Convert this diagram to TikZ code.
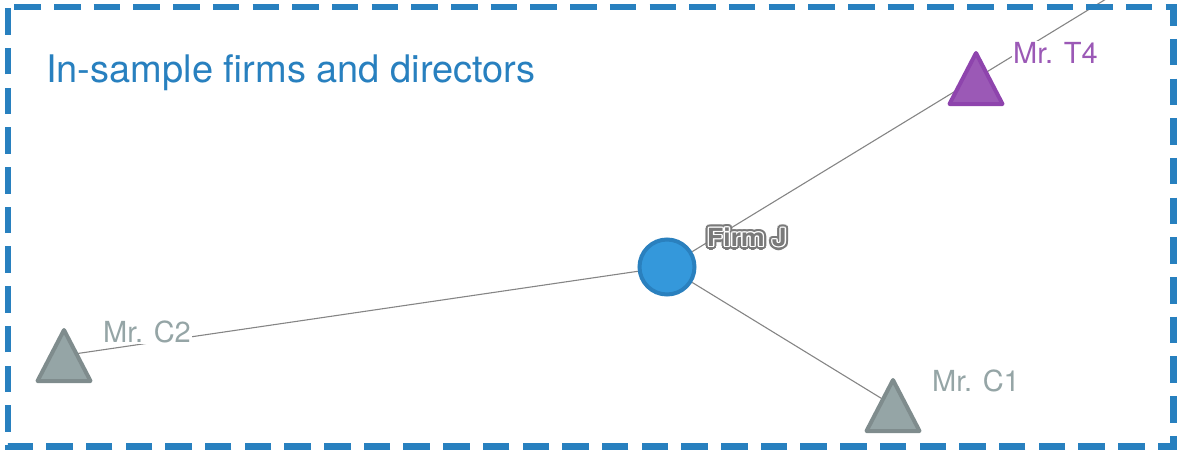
\documentclass[tikz,border=0pt]{standalone}
\usepackage{fontspec}
\setmainfont{TeX Gyre Heros}
\newfontfamily\firmfont[FakeStretch=1.06]{TeX Gyre Heros}
\usetikzlibrary{calc}

\definecolor{borderblue}{HTML}{2880BF}
\definecolor{firmfill}{HTML}{3498DB}
\definecolor{firmline}{HTML}{2A80BE}
\definecolor{dirfill}{HTML}{95A5A6}
\definecolor{dirline}{HTML}{7F8C8D}
\definecolor{dirtext}{HTML}{95A5A6}
\definecolor{tfill}{HTML}{9B59B6}
\definecolor{tline}{HTML}{8E44AD}
\definecolor{edgegray}{HTML}{858585}
\definecolor{halogray}{HTML}{7A7A7A}

\pgfdeclarelayer{edges}
\pgfsetlayers{edges,main}

\begin{document}
\begin{tikzpicture}[x=1pt,y=-1pt,
  edge/.style={draw=edgegray,line width=1.1pt},
  firm/.style={circle,fill=firmfill,draw=firmline,line width=4pt,
    minimum size=55pt,inner sep=0pt},
  dirshape/.style={line width=4pt,line join=round},
  grayshape/.style={dirshape,fill=dirfill,draw=dirline},
  purpleshape/.style={dirshape,fill=tfill,draw=tline},
  lbl/.style={anchor=base west,inner sep=1pt,font=\fontsize{29}{30}\selectfont},
  firmlbl/.style={anchor=base west,inner sep=0pt,
    font=\firmfont\fontsize{25}{27}\selectfont\bfseries},
  frame/.style={draw=borderblue,line width=6.5pt,
    dash pattern=on 26.5pt off 13.2pt,dash phase=33.4pt},
]
\useasboundingbox (0,0) rectangle (1179,453);
\clip (0,0) rectangle (1179,453);

% firm and directors
\node[firm] (fj) at (667,267) {};
\coordinate (t4) at (976,78.5);
\coordinate (c2) at (64,355.5);
\coordinate (c1) at (893,405.5);
\coordinate (t4far) at (1161,-34.6);
\coordinate (fjbase) at (707,246.5);

% board links, kept underneath everything else
\begin{pgfonlayer}{edges}
  \draw[edge] (fj) -- (t4) -- (t4far);
  \draw[edge] (fj) -- (c2);
  \draw[edge] (fj) -- (c1);
\end{pgfonlayer}

% director markers
\draw[purpleshape] (t4) ++(0,-25.5) -- ++(26.5,51) -- ++(-53,0) -- cycle;
\draw[grayshape]   (c2) ++(0,-25.5) -- ++(26.5,51) -- ++(-53,0) -- cycle;
\draw[grayshape]   (c1) ++(0,-25.5) -- ++(26.5,51) -- ++(-53,0) -- cycle;

% director names
\node[lbl,text=tfill,fill=white] (t4lbl) at (1012,63.3) {Mr. T4};
\node[lbl,text=dirtext,fill=white] (c2lbl) at (102,342) {Mr. C2};
\node[lbl,text=dirtext] (c1lbl) at (931,391) {Mr. C1};

% firm name with an outlined halo
\foreach \a in {0,30,...,330}{
  \node[firmlbl,text=halogray] (fjo\a) at ($(fjbase)+(\a:3.5)$) {Firm J};
  \node[firmlbl,text=halogray] (fjm\a) at ($(fjbase)+(\a+15:2.6)$) {Firm J};
}
\foreach \a in {0,45,...,315}{
  \node[firmlbl,text=white] (fjw\a) at ($(fjbase)+(\a:1.4)$) {Firm J};
}
\node[firmlbl,text=halogray] (fjlbl) at (fjbase) {Firm J};

% group title and frame
\node[anchor=base west,inner sep=0pt,text=borderblue,
  font=\fontsize{38}{40}\selectfont] (title) at (46,82)
  {In-sample firms and directors};
\draw[frame] (8,7) -- (1173.5,7) -- (1173.5,446.5) -- (8,446.5) -- cycle;
\end{tikzpicture}
\end{document}
